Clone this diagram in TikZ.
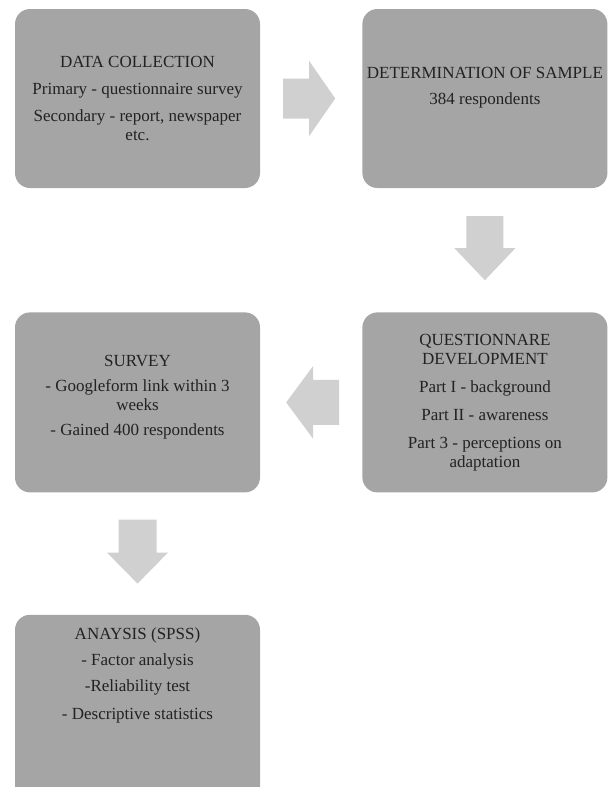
\documentclass[tikz,border=0pt]{standalone}
\usepackage{fontspec}
\setmainfont{Liberation Serif}
\usepackage{xcolor}
\usetikzlibrary{positioning,calc}

\definecolor{boxgray}{HTML}{A5A5A5}
\definecolor{arrowgray}{HTML}{D0D0D0}
\definecolor{txtgray}{HTML}{222222}

\tikzset{
  stagebox/.style={fill=boxgray, rounded corners=15pt, minimum width=245pt, minimum height=179pt,
    inner sep=0pt, align=center, text=txtgray, font=\fontsize{17}{19}\selectfont},
  stagetext/.style={inner sep=0pt, align=center, text=txtgray, font=\fontsize{17}{19}\selectfont},
  blockarrow/.style={fill=arrowgray}
}

\begin{document}
\begin{tikzpicture}[x=1pt,y=-1pt]
\useasboundingbox (0,0) rectangle (608,787);
\clip (0,0) rectangle (608,787);
% boxes
\node[stagebox] (collect) at (137.5,98.5) {DATA COLLECTION\\[8pt] Primary - questionnaire survey\\[8pt] Secondary - report, newspaper\\ etc.};
\node[stagebox, right=102pt of collect] (sample) {DETERMINATION OF SAMPLE\\[7pt] 384 respondents\\[7pt] \mbox{}};
\node[stagebox, minimum height=180pt, below=124pt of sample] (question) {QUESTIONNARE\\ DEVELOPMENT\\[9pt] Part I - background\\[9pt] Part II - awareness\\[9pt] Part 3 - perceptions on\\ adaptation};
\node[stagebox, minimum height=180pt, below=124pt of collect] (survey) {SURVEY\\[6pt] - Googleform link within 3\\ weeks\\[6pt] - Gained 400 respondents\\[-4pt]\mbox{}};
\node[stagebox, minimum height=200pt, below=122pt of survey] (analysis) {};
\node[stagetext, below=13pt of analysis.north] (analysistxt) {ANAYSIS (SPSS)\\[7pt] - Factor analysis\\[7pt] -Reliability test\\[9pt] - Descriptive statistics};
% arrows between the boxes
\coordinate (m1) at ($(collect.east)!0.5!(sample.west)$);
\coordinate (m2) at ($(sample.south)!0.5!(question.north)$);
\coordinate (m3) at ($(question.west)!0.5!(survey.east)$);
\coordinate (m4) at ($(survey.south)!0.5!(analysis.north)$);
\fill[blockarrow, shift={(m1)}] (-28,-20) -- (-2,-20) -- (-2,-37.5) -- (24,0) -- (-2,37.5) -- (-2,20) -- (-28,20) -- cycle;
\fill[blockarrow, shift={(m2)}] (-18.5,-34) -- (18.5,-34) -- (18.5,-2) -- (30.5,-2) -- (0,30) -- (-30.5,-2) -- (-18.5,-2) -- cycle;
\fill[blockarrow, shift={(m3)}] (28,-22.5) -- (2,-22.5) -- (2,-36.5) -- (-25,0) -- (2,36.5) -- (2,22.5) -- (28,22.5) -- cycle;
\fill[blockarrow, shift={(m4)}] (-19,-34) -- (19,-34) -- (19,-1) -- (30.5,-1) -- (0,30) -- (-30.5,-1) -- (-19,-1) -- cycle;
\end{tikzpicture}
\end{document}
